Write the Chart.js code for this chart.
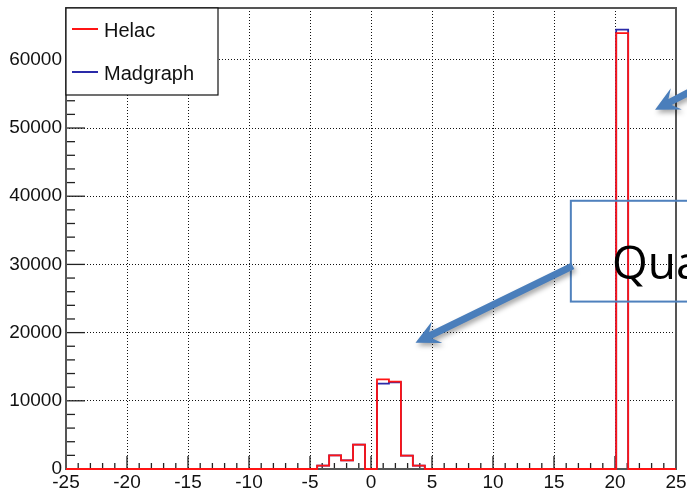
<!DOCTYPE html>
<html>
<head>
<meta charset="utf-8">
<script src="https://cdn.jsdelivr.net/npm/chart.js@4.4.0/dist/chart.umd.min.js"></script>
<style>
  html, body { margin: 0; padding: 0; background: #fff; }
  #wrap { width: 687px; height: 492px; position: relative; }
</style>
</head>
<body>
<div id="wrap"><canvas id="chart-hist"></canvas></div>
<script>
// histogram binning: 51 equal bins between -25 and 25
const X_MIN = -25;
const X_MAX = 25;
const N_BINS = 51;
const Y_MAX = 67600;

const SERIES_LABELS = ['Helac', 'Madgraph'];

// bin contents, one entry per bin
const HELAC = [
  0, 0, 0, 0, 0, 0, 0, 0, 0, 0,
  0, 0, 0, 0, 0, 0, 0, 0, 0, 0,
  0, 500, 2000, 1270, 3570, 0, 13130, 12800, 1950, 490,
  0, 0, 0, 0, 0, 0, 0, 0, 0, 0,
  0, 0, 0, 0, 0, 0, 63930, 0, 0, 0,
  0
];
const MADGRAPH = [
  0, 0, 0, 0, 0, 0, 0, 0, 0, 0,
  0, 0, 0, 0, 0, 0, 0, 0, 0, 0,
  0, 500, 2000, 1270, 3570, 0, 12520, 12720, 1950, 490,
  0, 0, 0, 0, 0, 0, 0, 0, 0, 0,
  0, 0, 0, 0, 0, 0, 64420, 0, 0, 0,
  0
];

const X_TICKS = [-25, -20, -15, -10, -5, 0, 5, 10, 15, 20, 25];
const Y_TICKS = [0, 10000, 20000, 30000, 40000, 50000, 60000];
const X_MINOR_STEP = 1;
const Y_MINOR_STEP = 2000;

// slide callouts laid over the plot, in axis units
const CALLOUT_BOX = { x0: 16.38, x1: 28, yTop: 39330, yBottom: 24550 };
const CALLOUT_TEXT = { text: 'Qua', x: 19.75, y: 27850 };
const ARROWS = [
  { from: [16.54, 29800], to: [3.65, 18520] },
  { from: [27.2, 56300], to: [23.28, 52670] }
];

const FONT = '"Liberation Sans", Arial, sans-serif';

// turn bin contents into step points at the bin edges
function toSteps(values) {
  const w = (X_MAX - X_MIN) / N_BINS;
  const pts = values.map((v, k) => ({ x: X_MIN + k * w, y: v }));
  pts.push({ x: X_MAX, y: values[values.length - 1] });
  return pts;
}

// frame plus ROOT style inner ticks
const frameAxes = {
  id: 'frameAxes',
  beforeDatasetsDraw(chart) {
    const { ctx, chartArea: a, scales: { x, y } } = chart;
    ctx.save();
    ctx.strokeStyle = '#222';
    ctx.lineWidth = 1.3;
    for (let v = X_MIN; v <= X_MAX; v += X_MINOR_STEP) {
      const px = x.getPixelForValue(v);
      const len = X_TICKS.includes(v) ? 13 : 6;
      ctx.beginPath();
      ctx.moveTo(px, a.bottom);
      ctx.lineTo(px, a.bottom - len);
      ctx.stroke();
    }
    for (let v = 0; v <= Y_MAX; v += Y_MINOR_STEP) {
      const py = y.getPixelForValue(v);
      const len = Y_TICKS.includes(v) ? 19 : 9;
      ctx.beginPath();
      ctx.moveTo(a.left, py);
      ctx.lineTo(a.left + len, py);
      ctx.stroke();
    }
    ctx.strokeStyle = '#555';
    ctx.lineWidth = 2;
    ctx.strokeRect(a.left, a.top, a.right - a.left, a.bottom - a.top);
    ctx.restore();
  }
};

// legend box in the upper left corner of the frame
const boxLegend = {
  id: 'boxLegend',
  afterDatasetsDraw(chart) {
    const { ctx, chartArea: a } = chart;
    const w = 152, h = 87;
    ctx.save();
    ctx.fillStyle = '#fff';
    ctx.fillRect(a.left, a.top, w, h);
    ctx.strokeStyle = '#111';
    ctx.lineWidth = 1.2;
    ctx.strokeRect(a.left, a.top, w, h);
    ctx.font = '20px ' + FONT;
    ctx.textBaseline = 'alphabetic';
    chart.data.datasets.forEach((ds, i) => {
      const ly = a.top + 21 + i * 43;
      ctx.strokeStyle = ds.borderColor;
      ctx.lineWidth = 2;
      ctx.beginPath();
      ctx.moveTo(a.left + 6, ly);
      ctx.lineTo(a.left + 32, ly);
      ctx.stroke();
      ctx.fillStyle = '#111';
      ctx.fillText(ds.label, a.left + 38, ly + 8);
    });
    ctx.restore();
  }
};

function drawArrow(ctx, x1, y1, x2, y2) {
  const ang = Math.atan2(y2 - y1, x2 - x1);
  const len = Math.hypot(x2 - x1, y2 - y1);
  const head = 24, half = 12, notch = 17, shaft = 3.5;
  ctx.save();
  ctx.shadowColor = 'rgba(0,0,0,0.35)';
  ctx.shadowBlur = 5;
  ctx.shadowOffsetX = 2;
  ctx.shadowOffsetY = 3;
  ctx.fillStyle = '#4a7ebb';
  ctx.translate(x2, y2);
  ctx.rotate(ang);
  ctx.beginPath();
  ctx.moveTo(0, 0);
  ctx.lineTo(-head, -half);
  ctx.lineTo(-notch, -shaft);
  ctx.lineTo(-len, -shaft);
  ctx.lineTo(-len, shaft);
  ctx.lineTo(-notch, shaft);
  ctx.lineTo(-head, half);
  ctx.closePath();
  ctx.fill();
  ctx.restore();
}

const callouts = {
  id: 'callouts',
  afterDraw(chart) {
    const { ctx, scales: { x, y } } = chart;
    ctx.save();
    const bx0 = x.getPixelForValue(CALLOUT_BOX.x0);
    const bx1 = x.getPixelForValue(CALLOUT_BOX.x1);
    const by0 = y.getPixelForValue(CALLOUT_BOX.yTop);
    const by1 = y.getPixelForValue(CALLOUT_BOX.yBottom);
    ctx.strokeStyle = '#4f81bd';
    ctx.lineWidth = 2;
    ctx.strokeRect(bx0, by0, bx1 - bx0, by1 - by0);
    ctx.fillStyle = '#000';
    ctx.font = '46px "Open Sans", sans-serif';
    ctx.textBaseline = 'alphabetic';
    ctx.fillText(CALLOUT_TEXT.text, x.getPixelForValue(CALLOUT_TEXT.x), y.getPixelForValue(CALLOUT_TEXT.y));
    ARROWS.forEach(ar => {
      drawArrow(ctx,
        x.getPixelForValue(ar.from[0]), y.getPixelForValue(ar.from[1]),
        x.getPixelForValue(ar.to[0]), y.getPixelForValue(ar.to[1]));
    });
    ctx.restore();
  }
};

const gridStyle = {
  color: '#111',
  lineWidth: 1,
  drawTicks: false,
  borderDash: [1, 2]
};

new Chart(document.getElementById('chart-hist'), {
  type: 'line',
  data: {
    datasets: [
      {
        label: SERIES_LABELS[0],
        data: toSteps(HELAC),
        borderColor: 'rgb(255, 20, 20)',
        borderWidth: 1.8,
        stepped: true,
        pointRadius: 0,
        fill: false,
        clip: false
      },
      {
        label: SERIES_LABELS[1],
        data: toSteps(MADGRAPH),
        borderColor: '#2a2aa8',
        borderWidth: 1.8,
        stepped: true,
        pointRadius: 0,
        fill: false,
        clip: false
      }
    ]
  },
  options: {
    responsive: true,
    maintainAspectRatio: false,
    animation: false,
    layout: { padding: { top: 8, right: 11, left: 0, bottom: 0 } },
    plugins: {
      legend: { display: false },
      tooltip: { enabled: false }
    },
    scales: {
      x: {
        type: 'linear',
        min: X_MIN,
        max: X_MAX,
        afterBuildTicks: s => { s.ticks = X_TICKS.map(v => ({ value: v })); },
        afterFit: s => {
          s.height = 23;
          s.paddingLeft = 0;
          s.paddingRight = 0;
        },
        grid: gridStyle,
        border: { display: false, dash: [1, 2] },
        ticks: {
          padding: 2,
          maxRotation: 0,
          autoSkip: false,
          color: '#111',
          font: { family: FONT, size: 19 },
          callback: v => String(v)
        }
      },
      y: {
        min: 0,
        max: Y_MAX,
        afterBuildTicks: s => { s.ticks = Y_TICKS.map(v => ({ value: v })); },
        afterFit: s => {
          s.width = 66;
          s.paddingTop = 0;
          s.paddingBottom = 0;
        },
        grid: gridStyle,
        border: { display: false, dash: [1, 2] },
        ticks: {
          padding: 4,
          autoSkip: false,
          color: '#111',
          font: { family: FONT, size: 19 },
          callback: v => String(v)
        }
      }
    }
  },
  plugins: [frameAxes, boxLegend, callouts]
});
</script>
</body>
</html>
